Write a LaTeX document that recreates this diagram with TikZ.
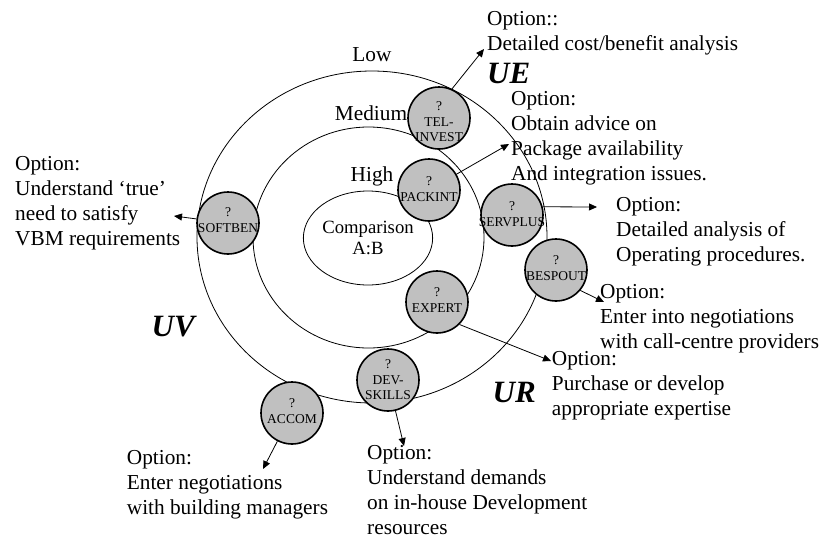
\documentclass[tikz,border=0pt]{standalone}
\usepackage{fontspec}
\setmainfont{Liberation Serif}
\usetikzlibrary{arrows.meta,positioning,shapes.geometric}

\definecolor{ballgray}{RGB}{192,192,192}

\begin{document}
\begin{tikzpicture}[x=1pt,y=-1pt,>={Triangle[length=8pt,width=7pt]},
font=\fontsize{21.3}{25}\selectfont]

\tikzstyle{ring}=[draw,line width=0.8pt]
\tikzstyle{optball}=[circle,draw,line width=1.6pt,fill=ballgray,minimum size=62pt,inner sep=0pt]
\tikzstyle{balltext}=[font=\fontsize{13.5}{15.5}\selectfont,align=center,inner sep=0pt]
\tikzstyle{option}=[anchor=north west,align=left,inner sep=0pt]
\tikzstyle{zone}=[font=\fontsize{31}{31}\selectfont\bfseries\itshape,inner sep=0pt]
\tikzstyle{optarrow}=[->,line width=0.8pt]

\useasboundingbox (0,0) rectangle (821,544);

%rings
\draw[ring] (372,237) ellipse [x radius=175pt, y radius=166pt];
\draw[ring] (368.5,237.5) ellipse [x radius=115.5pt, y radius=110.5pt];
\node[ring,ellipse,minimum width=104pt,minimum height=94pt,inner sep=0pt,
  align=center,font=\fontsize{18.7}{21}\selectfont] (compare) at (368,238) {Comparison\\A:B};

\node (low) at (372,55) {Low};
\node (medium) at (371,113) {Medium};
\node (high) at (372,176) {High};

%option balls
\node[optball] (telinvest) at (439,118) {};
\node[balltext] (telinvest-t) at (439,122) {?\\TEL-\\INVEST};
\node[optball] (packint) at (429,190) {};
\node[balltext] (packint-t) at (429,189) {?\\PACKINT};
\node[optball] (softben) at (228,223) {};
\node[balltext] (softben-t) at (228,220) {?\\SOFTBEN};
\node[optball] (servplus) at (512,215) {};
\node[balltext] (servplus-t) at (512,214) {?\\SERVPLUS};
\node[optball] (bespout) at (556,270) {};
\node[balltext] (bespout-t) at (556,268) {?\\BESPOUT};
\node[optball] (expert) at (437,302) {};
\node[balltext] (expert-t) at (437,300) {?\\EXPERT};
\node[optball] (devskills) at (388,380) {};
\node[balltext] (devskills-t) at (388,380) {?\\DEV-\\SKILLS};
\node[optball] (accom) at (292,413) {};
\node[balltext] (accom-t) at (292,411) {?\\ACCOM};

%zones
\node[zone,anchor=west] (ue) at (487,73) {UE};
\node[zone,anchor=east] (uv) at (195,327) {UV};
\node[zone,anchor=east] (ur) at (536,392) {UR};

%options
\node[option] (opt-ue) at (487,11.5) {Option::\\Detailed cost/benefit analysis};
\node[option] (opt-pack) at (511,91) {Option:\\Obtain advice on\\Package availability\\And integration issues.};
\node[option] (opt-serv) at (616,197.5) {Option:\\Detailed analysis of\\Operating procedures.};
\node[option] (opt-besp) at (600,284) {Option:\\Enter into negotiations\\with call-centre providers};
\node[option] (opt-exp) at (551.7,351) {Option:\\Purchase or develop\\appropriate expertise};
\node[option] (opt-soft) at (15,156) {Option:\\Understand `true'\\need to satisfy\\VBM requirements};
\node[option] (opt-accom) at (126.7,450.5) {Option:\\Enter negotiations\\with building managers};
\node[option] (opt-dev) at (367,445.5) {Option:\\Understand demands\\on in-house Development\\resources};

%arrows
\coordinate (tip-ue) at (484,49);
\coordinate (tip-pack) at (509,144);
\coordinate (tip-serv) at (597,207);
\coordinate (tip-besp) at (604,302);
\coordinate (tip-exp) at (551,361);
\coordinate (tip-soft) at (174,216);
\coordinate (tip-accom) at (263,469);
\coordinate (tip-dev) at (404,446);

\draw[optarrow] (telinvest.66) -- (tip-ue);
\draw[optarrow] (packint) -- (tip-pack);
\draw[optarrow] (servplus.15) -- (tip-serv);
\draw[optarrow] (bespout.-40) -- (tip-besp);
\draw[optarrow] (expert.-45) -- (tip-exp);
\draw[optarrow] (softben) -- (tip-soft);
\draw[optarrow] (accom) -- (tip-accom);
\draw[optarrow] (devskills) -- (tip-dev);

\end{tikzpicture}
\end{document}
